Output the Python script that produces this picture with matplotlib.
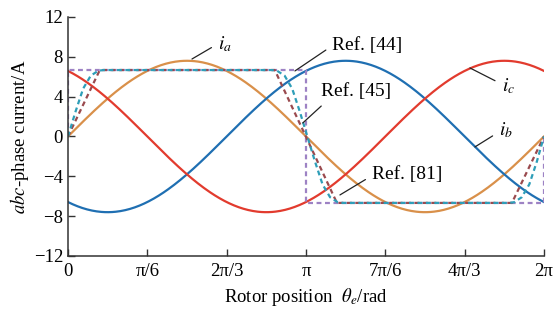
import numpy as np
import matplotlib
matplotlib.use("Agg")
import matplotlib.pyplot as plt

plt.rcParams['font.family'] = ['Liberation Serif', 'DejaVu Serif']
plt.rcParams['mathtext.fontset'] = 'stix'

# sinusoidal phase currents (amplitude in A, phase shift in rad)
amplitude = 7.6
phase_labels = [r'$i_a$', r'$i_b$', r'$i_c$']
phase_shift = [0.0, -2 * np.pi / 3, 2 * np.pi / 3]
phase_colors = ['#D9904A', '#1F6FB2', '#E23B2E']

# trapezoidal reference currents (theta in rad, current in A)
ref44_theta = [0, 0, np.pi, np.pi, 2 * np.pi, 2 * np.pi]
ref44_i = [0, 6.67, 6.67, -6.67, -6.67, 0]

ref81_theta = [0, 0.42, 2.73, 3.55, 5.86, 2 * np.pi]
ref81_i = [0, 6.67, 6.67, -6.67, -6.67, 0]

ref45_theta = [0, 0.1, 0.2, 0.3, 0.4, 0.47,
               2.69, 2.76, 2.86, 2.96, 3.06, 3.16, 3.26, 3.36, 3.46, 3.56, 3.63,
               5.82, 5.89, 5.99, 6.09, 6.19, 2 * np.pi]
ref45_i = [0, 2.5, 4.8, 6.1, 6.6, 6.67,
           6.67, 6.6, 6.1, 4.8, 2.5, 0, -2.5, -4.8, -6.1, -6.6, -6.67,
           -6.67, -6.6, -6.1, -4.8, -2.5, 0]

xtick_pos = [0, np.pi / 3, 2 * np.pi / 3, np.pi, 4 * np.pi / 3, 5 * np.pi / 3, 2 * np.pi]
xtick_labels = ['0', 'π/6', '2π/3', 'π', '7π/6', '4π/3', '2π']
ytick_pos = [-12, -8, -4, 0, 4, 8, 12]

fig = plt.figure(figsize=(5.59, 3.2), dpi=100)
ax = fig.add_axes([0.1216, 0.2, 0.8515, 0.747])

theta = np.linspace(0, 2 * np.pi, 400)
for shift, col in zip(phase_shift, phase_colors):
    ax.plot(theta, amplitude * np.sin(theta + shift), color=col, lw=1.6)

ax.plot(ref44_theta, ref44_i, color='#9D82C4', lw=1.6, ls=(0, (2.2, 1.6)))
ax.plot(ref81_theta, ref81_i, color='#9A4A4E', lw=1.6, ls=(0, (2.2, 1.6)))
ax.plot(ref45_theta, ref45_i, color='#2E9EB8', lw=1.6, ls=(0, (2.2, 1.6)))

ax.set_xlim(0, 2 * np.pi)
ax.set_ylim(-12, 12)
ax.set_xticks(xtick_pos)
ax.set_xticklabels(xtick_labels)
ax.set_yticks(ytick_pos)
ax.set_yticklabels(['−12', '−8', '−4', '0', '4', '8', '12'])
ax.tick_params(direction='in', length=5, width=1, labelsize=13.5, color='#333333')
ax.tick_params(axis='x', pad=5)
ax.spines['top'].set_visible(False)
ax.spines['right'].set_visible(False)
for s in ['left', 'bottom']:
    ax.spines[s].set_linewidth(1.1)
    ax.spines[s].set_color('#333333')

ax.set_xlabel(r'Rotor position  $\theta_e$/rad', fontsize=13.5, labelpad=4)
ax.set_ylabel(r'$abc$-phase current/A', fontsize=13.5, labelpad=2)

lp = dict(arrowstyle='-', lw=0.9, color='#222222', shrinkA=3, shrinkB=0)
notes = [
    (r'$i_a$', (1.637, 7.78), (2.07, 9.3), (0, 0.5), 14),
    ('Ref. [44]', (2.996, 6.58), (3.95, 9.1), (0, 0.5), 14),
    ('Ref. [45]', (3.10, 1.36), (3.80, 4.47), (0.12, 0.1), 14),
    ('Ref. [81]', (3.59, -5.87), (4.475, -3.77), (0, 0.4), 14),
    (r'$i_c$', (5.306, 6.88), (5.81, 5.07), (0, 0.6), 14),
    (r'$i_b$', (5.372, -1.05), (5.78, 0.65), (0, 0.4), 14),
]
for txt, xy, xytext, rp, fs in notes:
    ax.annotate(txt, xy=xy, xytext=xytext, ha='center', va='center', fontsize=fs,
                arrowprops=dict(lp, relpos=rp))

fig.savefig('out.png', dpi=100)
